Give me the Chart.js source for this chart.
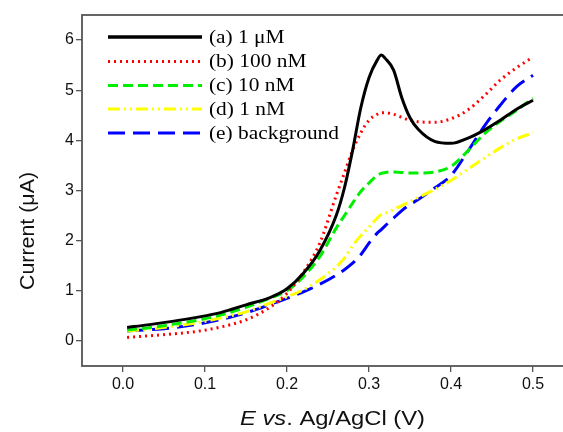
<!DOCTYPE html>
<html>
<head>
<meta charset="utf-8">
<script src="https://cdn.jsdelivr.net/npm/chart.js@4/dist/chart.umd.min.js"></script>
<style>
  html, body { margin: 0; padding: 0; background: #fff; overflow: hidden; }
  #wrap { width: 600px; height: 432px; }
</style>
</head>
<body>
<div id="wrap"><canvas id="c" width="600" height="432"></canvas></div>
<script>
// potential (V vs Ag/AgCl)
const potential = [0.005, 0.03, 0.06, 0.09, 0.12, 0.15, 0.18, 0.20, 0.22, 0.24, 0.26, 0.27, 0.28, 0.29,
                   0.30, 0.31, 0.315, 0.32, 0.33, 0.34, 0.35, 0.36, 0.38, 0.40, 0.42, 0.44, 0.46, 0.48, 0.50];

// current (uA)
const cur1uM   = [0.27, 0.32, 0.39, 0.47, 0.57, 0.72, 0.87, 1.04, 1.35, 1.80, 2.50, 3.05, 3.80, 4.65,
                  5.25, 5.60, 5.70, 5.63, 5.40, 4.85, 4.45, 4.22, 3.98, 3.94, 4.04, 4.20, 4.40, 4.62, 4.80];
const cur100nM = [0.07, 0.10, 0.14, 0.19, 0.28, 0.42, 0.68, 0.95, 1.37, 1.95, 2.90, 3.35, 3.80, 4.15,
                  4.40, 4.52, 4.55, 4.55, 4.52, 4.46, 4.40, 4.37, 4.36, 4.43, 4.60, 4.88, 5.20, 5.45, 5.66];
const cur10nM  = [0.22, 0.26, 0.33, 0.41, 0.52, 0.67, 0.86, 1.00, 1.28, 1.68, 2.25, 2.50, 2.75, 2.98,
                  3.15, 3.30, 3.34, 3.36, 3.37, 3.36, 3.35, 3.35, 3.37, 3.48, 3.78, 4.12, 4.38, 4.60, 4.84];
const cur1nM   = [0.20, 0.23, 0.29, 0.36, 0.46, 0.58, 0.76, 0.88, 1.02, 1.22, 1.48, 1.65, 1.90, 2.10,
                  2.27, 2.45, 2.52, 2.55, 2.62, 2.70, 2.78, 2.86, 3.02, 3.20, 3.42, 3.64, 3.85, 4.03, 4.15];
const curBg    = [0.20, 0.22, 0.26, 0.33, 0.43, 0.56, 0.73, 0.85, 0.98, 1.13, 1.31, 1.42, 1.55, 1.72,
                  1.95, 2.15, 2.22, 2.30, 2.45, 2.60, 2.72, 2.82, 3.05, 3.30, 3.77, 4.27, 4.70, 5.07, 5.30];

const labels = ['(a) 1 \u03bcM', '(b) 100 nM', '(c) 10 nM', '(d) 1 nM', '(e) background'];
const colors = ['#000000', '#ff0000', '#00ee00', '#ffff00', '#0000ff'];
const dashes = [[], [2, 4], [10, 5], [12, 4, 2, 4, 2, 4], [17, 8]];
const series = [cur1uM, cur100nM, cur10nM, cur1nM, curBg];

const xTicks = [0.0, 0.1, 0.2, 0.3, 0.4, 0.5];
const yTicks = [0, 1, 2, 3, 4, 5, 6];

const toPts = arr => arr.map((v, i) => ({ x: potential[i], y: v }));

// the source figure is a bit stretched sideways, so text gets squeezed to fit a width
function wideText(ctx, txt, x, y, target) {
    const w = ctx.measureText(txt).width;
    ctx.save();
    ctx.translate(x, y);
    ctx.scale(target / w, 1);
    ctx.fillText(txt, 0, 0);
    ctx.restore();
}

// frame, legend and axis titles
const extras = {
    id: 'extras',
    afterDraw(chart) {
        const ctx = chart.ctx;
        const a = chart.chartArea;
        ctx.save();
        ctx.strokeStyle = '#555';
        ctx.lineWidth = 1.8;
        ctx.strokeRect(a.left, a.top, a.right - a.left, a.bottom - a.top);

        // legend
        ctx.font = '18px "Liberation Serif", "Times New Roman", serif';
        const k = 130 / ctx.measureText(labels[4]).width;
        const rows = [37, 61.5, 85.5, 109, 133];
        ctx.textBaseline = 'middle';
        ctx.textAlign = 'left';
        labels.forEach((t, i) => {
            const y = rows[i];
            ctx.beginPath();
            ctx.setLineDash(dashes[i]);
            ctx.strokeStyle = colors[i];
            ctx.lineWidth = i === 0 ? 3.5 : 3;
            ctx.moveTo(108, y);
            ctx.lineTo(202, y);
            ctx.stroke();
            ctx.setLineDash([]);
            ctx.fillStyle = '#000';
            wideText(ctx, t, 209, y + 1, ctx.measureText(t).width * k);
        });

        // x title with italic parts
        const parts = [['E', true], [' ', false], ['vs', true], ['. Ag/AgCl (V)', false]];
        const fnt = it => (it ? 'italic ' : '') + '20px "Liberation Sans", Arial, sans-serif';
        let w = 0;
        parts.forEach(p => { ctx.font = fnt(p[1]); w += ctx.measureText(p[0]).width; });
        const sx = 185 / w;
        ctx.save();
        ctx.translate(240, 425);
        ctx.scale(sx, 1);
        ctx.textBaseline = 'alphabetic';
        ctx.fillStyle = '#111';
        let x = 0;
        parts.forEach(p => {
            ctx.font = fnt(p[1]);
            ctx.fillText(p[0], x, 0);
            x += ctx.measureText(p[0]).width;
        });
        ctx.restore();

        // y title
        ctx.translate(28, 231);
        ctx.rotate(-Math.PI / 2);
        ctx.font = '20px "Liberation Sans", Arial, sans-serif';
        ctx.fillStyle = '#111';
        ctx.textAlign = 'left';
        ctx.textBaseline = 'middle';
        wideText(ctx, 'Current (\u03bcA)', -59, 0, 118);
        ctx.restore();
    }
};

new Chart(document.getElementById('c').getContext('2d'), {
    type: 'line',
    data: {
        datasets: series.map((s, i) => ({
            label: labels[i],
            data: toPts(s),
            borderColor: colors[i],
            borderWidth: 3,
            borderDash: dashes[i],
            pointRadius: 0,
            fill: false,
            tension: 0.4,
            cubicInterpolationMode: 'monotone'
        }))
    },
    options: {
        responsive: false,
        animation: false,
        layout: { padding: { top: 15, right: 26, left: 0, bottom: 0 } },
        plugins: { legend: { display: false }, tooltip: { enabled: false } },
        scales: {
            x: {
                type: 'linear',
                min: -0.05,
                max: 0.55,
                afterBuildTicks: s => { s.ticks = xTicks.map(v => ({ value: v })); },
                afterFit: s => { s.height = 66; },
                ticks: {
                    color: '#111',
                    font: { family: '"Liberation Sans", Arial, sans-serif', size: 16 },
                    padding: 3,
                    maxRotation: 0,
                    callback: v => v.toFixed(1)
                },
                grid: { drawOnChartArea: false, drawTicks: true, tickLength: 6, color: '#555', lineWidth: 1.3 },
                border: { display: false }
            },
            y: {
                min: -0.5,
                max: 6.5,
                afterBuildTicks: s => { s.ticks = yTicks.map(v => ({ value: v })); },
                afterFit: s => { s.width = 82; },
                ticks: {
                    color: '#111',
                    font: { family: '"Liberation Sans", Arial, sans-serif', size: 16 },
                    padding: 2,
                    callback: v => String(v)
                },
                grid: { drawOnChartArea: false, drawTicks: true, tickLength: 6, color: '#555', lineWidth: 1.3 },
                border: { display: false }
            }
        }
    },
    plugins: [extras]
});
</script>
</body>
</html>
